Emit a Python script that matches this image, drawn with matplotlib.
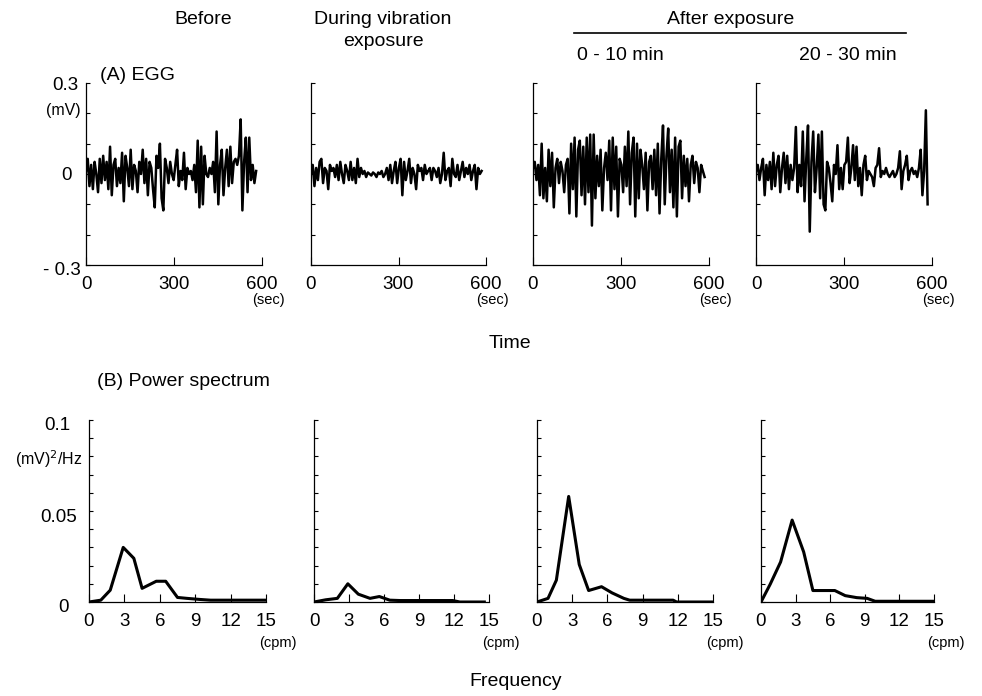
import numpy as np
import matplotlib
matplotlib.use('Agg')
import matplotlib.pyplot as plt
from matplotlib.lines import Line2D

plt.rcParams['font.family'] = ['Liberation Sans', 'DejaVu Sans']

egg_before = [
    0.01, 0.05, -0.04, 0.03, -0.05, 0.04, 0.00, -0.06, 0.05, -0.03,
    0.06, -0.02, 0.04, -0.05, 0.09, -0.07, 0.03, 0.05, -0.04, 0.02,
    -0.03, 0.07, -0.09, 0.06, 0.02, -0.04, 0.08, -0.05, 0.03, 0.01,
    -0.06, 0.04, 0.00, 0.08, -0.03, 0.05, -0.07, 0.04, 0.02, -0.05,
    -0.11, 0.06, 0.02, 0.10, -0.08, -0.12, 0.05, 0.02, -0.03, 0.04,
    0.00, -0.02, 0.03, 0.08, -0.04, 0.01, -0.02, 0.07, -0.05, 0.02,
    0.00, 0.01, -0.02, 0.03, -0.06, 0.11, -0.11, 0.09, -0.10, 0.06,
    0.00, -0.01, 0.02, 0.00, 0.04, -0.06, 0.14, -0.10, 0.03, 0.08,
    -0.07, 0.02, 0.08, -0.04, 0.09, -0.03, 0.04, 0.05, 0.03, 0.06,
    0.18, -0.12, 0.04, 0.12, -0.06, 0.12, -0.02, 0.03, -0.03, 0.01,
]
egg_during = [
    0.00, 0.03, -0.04, 0.02, -0.02, 0.04, 0.05, -0.03, 0.02, 0.01,
    -0.05, 0.03, 0.01, 0.02, -0.01, 0.03, -0.02, 0.04, 0.00, -0.03,
    0.03, 0.01, -0.02, 0.04, -0.02, 0.02, -0.03, 0.05, -0.01, 0.02,
    0.00, 0.01, -0.01, 0.005, 0.00, -0.005, 0.005, 0.00, -0.01, 0.005,
    0.00, 0.01, -0.01, 0.00, 0.02, -0.02, 0.03, -0.03, 0.01, 0.04,
    -0.03, 0.02, 0.05, -0.07, 0.04, -0.02, 0.01, 0.05, -0.03, 0.02,
    0.00, -0.05, 0.03, 0.01, 0.02, -0.02, 0.03, 0.00, 0.01, 0.02,
    -0.02, 0.02, 0.01, -0.01, 0.02, -0.03, 0.00, 0.07, -0.02, 0.01,
    0.02, -0.04, 0.05, 0.00, -0.01, 0.03, -0.02, 0.01, 0.04, -0.01,
    0.02, 0.00, 0.03, -0.02, 0.01, 0.03, -0.05, 0.02, 0.00, 0.01,
]
egg_after_0_10 = [
    0.02, 0.04, -0.02, 0.03, -0.07, 0.10, -0.08, 0.02, -0.09, 0.08,
    -0.04, 0.07, -0.11, 0.02, 0.05, -0.03, 0.04, 0.01, -0.06, 0.03,
    0.05, -0.13, 0.10, -0.05, 0.12, -0.14, 0.08, 0.11, -0.07, 0.09,
    -0.10, 0.12, -0.06, 0.13, -0.17, 0.13, -0.08, 0.06, -0.04, 0.08,
    -0.12, 0.02, 0.07, -0.02, 0.11, -0.12, 0.12, -0.05, 0.09, -0.14,
    0.05, 0.03, -0.06, 0.09, -0.04, 0.14, -0.10, 0.07, 0.12, -0.14,
    0.10, -0.08, 0.08, 0.03, -0.05, 0.07, -0.12, 0.04, 0.06, -0.05,
    0.08, -0.07, 0.10, -0.13, 0.05, 0.16, -0.10, 0.06, 0.15, -0.06,
    0.08, -0.11, 0.12, -0.14, 0.09, 0.11, -0.08, 0.06, -0.04, 0.05,
    -0.09, 0.03, 0.06, -0.03, 0.04, 0.02, -0.06, 0.03, 0.01, -0.01,
]
egg_after_20_30 = [
    0.01, 0.03, -0.02, 0.02, 0.05, -0.07, 0.03, -0.02, 0.04, -0.05,
    0.07, -0.04, 0.03, 0.06, -0.06, 0.02, 0.07, -0.03, 0.06, -0.05,
    0.03, -0.02, 0.02, 0.155, -0.06, 0.03, -0.04, 0.14, -0.09, 0.05,
    0.16, -0.19, 0.04, 0.14, -0.06, 0.02, 0.13, -0.08, 0.14, -0.10,
    -0.12, 0.04, 0.02, -0.03, -0.09, 0.03, 0.00, 0.095, -0.05, 0.02,
    -0.05, 0.03, 0.04, 0.12, -0.03, 0.02, 0.095, -0.02, 0.09, -0.04,
    0.02, -0.07, 0.03, 0.06, -0.02, 0.01, 0.00, -0.01, -0.04, 0.02,
    0.03, 0.085, -0.01, 0.01, 0.00, 0.02, 0.00, -0.01, 0.00, 0.01,
    -0.01, 0.00, 0.02, 0.075, -0.05, 0.01, 0.03, 0.06, -0.02, 0.01,
    0.02, 0.00, 0.01, -0.01, 0.02, 0.08, -0.07, 0.01, 0.21, -0.10,
]
egg_end_sec = [580, 585, 585, 585]

# power spectra: frequency (cpm) and power ((mV)^2/Hz)
ps_before_f = [0, 1.0, 1.8, 2.9, 3.8, 4.5, 5.7, 6.5, 7.5, 8.3, 9.4, 10.3, 15]
ps_before_p = [0, 0.001, 0.0065, 0.030, 0.024, 0.0075, 0.0114, 0.0114,
               0.0025, 0.002, 0.0014, 0.001, 0.001]
ps_during_f = [0, 1.0, 2.0, 2.9, 3.8, 4.8, 5.6, 6.5, 7.4, 11.9, 12.5, 14.6]
ps_during_p = [0, 0.0012, 0.002, 0.010, 0.0043, 0.002, 0.003, 0.001,
               0.0008, 0.0008, 0.0, 0.0]
ps_after1_f = [0, 0.94, 1.65, 2.7, 3.6, 4.4, 5.5, 6.4, 7.4, 7.9, 11.6, 11.9, 15]
ps_after1_p = [0, 0.002, 0.012, 0.058, 0.0206, 0.0063, 0.0084, 0.005,
               0.002, 0.001, 0.001, 0.0, 0.0]
ps_after2_f = [0, 0.8, 1.7, 2.7, 3.7, 4.5, 6.4, 7.3, 8.3, 9.2, 9.9, 11.5, 15]
ps_after2_p = [0, 0.0098, 0.022, 0.045, 0.0275, 0.0063, 0.0063, 0.0035,
               0.0024, 0.002, 0.0004, 0.0004, 0.0004]

egg_traces = [egg_before, egg_during, egg_after_0_10, egg_after_20_30]
spectra = [(ps_before_f, ps_before_p), (ps_during_f, ps_during_p),
           (ps_after1_f, ps_after1_p), (ps_after2_f, ps_after2_p)]

W, H = 982, 696
fig = plt.figure(figsize=(W / 100, H / 100), dpi=100)


def px_axes(x0, x1, ytop, ybot):
    return fig.add_axes([x0 / W, 1 - ybot / H, (x1 - x0) / W, (ybot - ytop) / H])


def ftext(px, py, s, size=14, ha='center'):
    fig.text(px / W, 1 - py / H, s, fontsize=size, ha=ha, va='center')


egg_x = [(86, 262), (311, 486), (533, 709), (756, 932)]
ps_x = [(89, 266), (314, 489), (537, 713), (761, 934)]
FS = 13.5

# (A) EGG traces
for k, (trace, (x0, x1)) in enumerate(zip(egg_traces, egg_x)):
    ax = px_axes(x0, x1, 83, 265)
    t = np.linspace(0, egg_end_sec[k], len(trace))
    ax.plot(t, trace, color='black', lw=1.8)
    ax.set_xlim(0, 600)
    ax.set_ylim(-0.3, 0.3)
    for s in ['top', 'right']:
        ax.spines[s].set_visible(False)
    for s in ['left', 'bottom']:
        ax.spines[s].set_linewidth(0.9)
    ax.set_xticks([0, 300, 600])
    ax.set_xticklabels(['0', '300', '600'], fontsize=FS)
    ax.tick_params(axis='x', direction='in', length=6, pad=8)
    ax.set_yticks(np.arange(-0.3, 0.31, 0.1))
    ax.set_yticklabels([])
    ax.tick_params(axis='y', direction='in', length=3)
    ftext(x1 + 6, 300, '(sec)', size=10.5)

ftext(78, 85, '0.3', size=FS, ha='right')
ftext(81, 110, '(mV)', size=11.5, ha='right')
ftext(72, 175, '0', size=FS, ha='right')
ftext(81, 270, '- 0.3', size=FS, ha='right')

# (B) power spectra
for k, ((f, p), (x0, x1)) in enumerate(zip(spectra, ps_x)):
    ax = px_axes(x0, x1, 420, 602)
    ax.plot(f, p, color='black', lw=2.2)
    ax.set_xlim(0, 15)
    ax.set_ylim(0, 0.1)
    for s in ['top', 'right']:
        ax.spines[s].set_visible(False)
    for s in ['left', 'bottom']:
        ax.spines[s].set_linewidth(0.9)
    ax.set_xticks([0, 3, 6, 9, 12, 15])
    ax.set_xticklabels(['0', '3', '6', '9', '12', '15'], fontsize=FS)
    ax.tick_params(axis='x', direction='in', length=6, pad=8)
    ax.set_yticks(np.arange(0, 0.101, 0.01))
    ax.set_yticklabels([])
    ax.tick_params(axis='y', direction='in', length=3)
    ftext(x1 + 12, 643, '(cpm)', size=10.5)

ftext(70, 425, '0.1', size=FS, ha='right')
ftext(83, 459, '(mV)$^2$/Hz', size=11.5, ha='right')
ftext(77, 517, '0.05', size=FS, ha='right')
ftext(69, 608, '0', size=FS, ha='right')

# headers and labels
ftext(203, 20, 'Before')
ftext(383, 20, 'During vibration')
ftext(383, 42, 'exposure')
ftext(731, 20, 'After exposure')
fig.add_artist(Line2D([574 / W, 906 / W], [1 - 33 / H, 1 - 33 / H], color='black', lw=1.2))
ftext(620, 55, '0 - 10 min')
ftext(848, 55, '20 - 30 min')
ftext(100, 75, '(A) EGG', ha='left')
ftext(510, 343, 'Time')
ftext(97, 382, '(B) Power spectrum', ha='left')
ftext(516, 681, 'Frequency')

fig.savefig('out.png', dpi=100)
